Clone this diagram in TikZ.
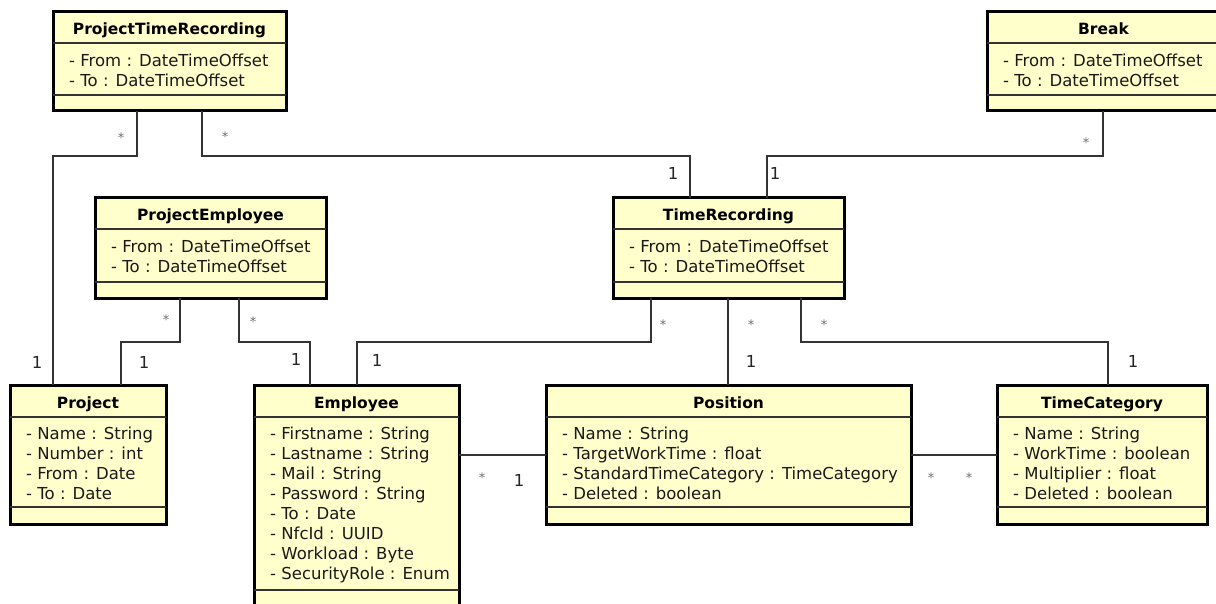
\documentclass[tikz,border=0pt]{standalone}
\usepackage{fontspec}
\setmainfont{DejaVu Sans}
\usetikzlibrary{calc}

\definecolor{classfill}{HTML}{FFFFCC}
\definecolor{linegray}{HTML}{333333}
\definecolor{stargray}{HTML}{6E6E6E}

\tikzset{
  classbox/.style={draw=black, line width=3pt, fill=classfill, inner sep=0pt,
                   outer sep=0pt, anchor=north west},
  sepline/.style={draw=linegray, line width=1.4pt},
  conn/.style={draw=linegray, line width=1.3pt},
  classtitle/.style={font=\fontsize{15.5}{18}\selectfont\bfseries, anchor=base, inner sep=0pt},
  attr/.style={font=\fontsize{16.5}{20}\selectfont, anchor=base west, inner sep=0pt, text=black!90},
  one/.style={font=\fontsize{16.5}{20}\selectfont, anchor=base, inner sep=0pt, text=black!85},
  many/.style={font=\fontsize{13}{14}\selectfont, anchor=base, inner sep=0pt, text=stargray},
}

% #1 name, #2 left, #3 top, #4 right, #5 bottom, #6 title rule, #7 attribute rule,
% #8 class name, #9 attribute list
\newcommand\umlclass[9]{%
  \node[classbox, minimum width={#4-#2}, minimum height={#5-#3}] (#1) at (#2,#3) {};
  \draw[sepline] (#2,#6) -- (#4,#6);
  \draw[sepline] (#2,#7) -- (#4,#7);
  \node[classtitle] (#1-name) at ({(#2+#4)/2},{#3+23}) {#8};
  \foreach \a [count=\i from 0] in {#9}
    \node[attr] (#1-attr\i) at ({#2+16},{#3+54.5+20*\i}) {\a};
}

\begin{document}
\begin{tikzpicture}[x=1pt, y=-1pt]
\useasboundingbox[fill=white] (0,0) rectangle (1216,604);

% classes
\umlclass{ptr}{53}{12}{286}{111}{43}{95}{ProjectTimeRecording}
  {- From : DateTimeOffset, - To : DateTimeOffset}
\umlclass{break}{987}{12}{1220}{111}{43}{95}{Break}
  {- From : DateTimeOffset, - To : DateTimeOffset}
\umlclass{pe}{95}{198}{326}{298}{229}{282}{ProjectEmployee}
  {- From : DateTimeOffset, - To : DateTimeOffset}
\umlclass{tr}{613}{198}{844}{298}{229}{282}{TimeRecording}
  {- From : DateTimeOffset, - To : DateTimeOffset}
\umlclass{project}{10}{385}{166}{524}{417}{507}{Project}
  {- Name : String, - Number : int, - From : Date, - To : Date}
\umlclass{employee}{254}{385}{459}{606}{417}{590}{Employee}
  {- Firstname : String, - Lastname : String, - Mail : String, - Password : String,
   - To : Date, - NfcId : UUID, - Workload : Byte, - SecurityRole : Enum}
\umlclass{position}{546}{385}{911}{524}{417}{507}{Position}
  {- Name : String, - TargetWorkTime : float,
   - StandardTimeCategory : TimeCategory, - Deleted : boolean}
\umlclass{tc}{997}{385}{1207}{524}{417}{507}{TimeCategory}
  {- Name : String, - WorkTime : boolean, - Multiplier : float, - Deleted : boolean}

% associations
\draw[conn] ([xshift=84pt]ptr.south west) -- ++(0,45) -| ([xshift=43pt]project.north west);
\draw[conn] ([xshift=149pt]ptr.south west) -- ++(0,45) -| ([xshift=77pt]tr.north west);
\draw[conn] ([xshift=116pt]break.south west) -- ++(0,45) -| ([xshift=154pt]tr.north west);
\draw[conn] ([xshift=85pt]pe.south west) -- ++(0,44) -| ([xshift=111pt]project.north west);
\draw[conn] ([xshift=144pt]pe.south west) -- ++(0,44) -| ([xshift=56pt]employee.north west);
\draw[conn] ([xshift=38pt]tr.south west) -- ++(0,44) -| ([xshift=103pt]employee.north west);
\draw[conn] ([xshift=115pt]tr.south west) -- ([xshift=182pt]position.north west);
\draw[conn] ([xshift=188pt]tr.south west) -- ++(0,44) -| ([xshift=111pt]tc.north west);
\draw[conn] ([yshift=-70pt]employee.north east) -- ([yshift=-70pt]position.north west);
\draw[conn] ([yshift=-70pt]position.north east) -- ([yshift=-70pt]tc.north west);

% multiplicities
\node[many] (m-ptr-project) at (121,142.5) {*};
\node[one]  (m-project-ptr) at (37,368) {1};
\node[many] (m-ptr-tr) at (225,142) {*};
\node[one]  (m-tr-ptr) at (673,180) {1};
\node[many] (m-break-tr) at (1086,147.5) {*};
\node[one]  (m-tr-break) at (775,180) {1};
\node[many] (m-pe-project) at (166,324.5) {*};
\node[one]  (m-project-pe) at (144,368) {1};
\node[many] (m-pe-employee) at (253,326.5) {*};
\node[one]  (m-employee-pe) at (296,365) {1};
\node[many] (m-tr-employee) at (663,329.5) {*};
\node[one]  (m-employee-tr) at (377,366) {1};
\node[many] (m-tr-position) at (751,329.5) {*};
\node[one]  (m-position-tr) at (751,367) {1};
\node[many] (m-tr-tc) at (824,329.5) {*};
\node[one]  (m-tc-tr) at (1133,367) {1};
\node[many] (m-employee-position) at (482,482.5) {*};
\node[one]  (m-position-employee) at (519,486) {1};
\node[many] (m-position-tc) at (931,482.5) {*};
\node[many] (m-tc-position) at (969,482.5) {*};
\end{tikzpicture}
\end{document}
